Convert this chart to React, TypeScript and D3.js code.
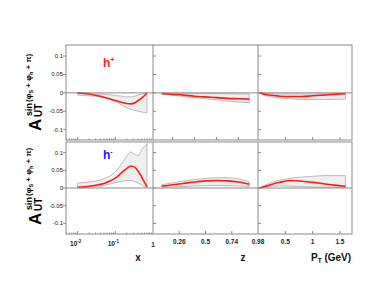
import React from "react";
import * as d3 from "d3";

// ---- data ----
const xVals = [0.01, 0.02, 0.035, 0.05, 0.07, 0.1, 0.15, 0.2, 0.26, 0.33, 0.4, 0.5, 0.6, 0.69];
const xPlusCentral = [0, -0.003, -0.008, -0.012, -0.016, -0.021, -0.026, -0.029, -0.03, -0.027, -0.021, -0.014, -0.007, 0];
const xPlusUpper = [-0.002, -0.003, -0.003, -0.004, -0.005, -0.007, -0.009, -0.011, -0.011, -0.009, -0.006, -0.003, -0.001, 0];
const xPlusLower = [-0.006, -0.008, -0.01, -0.013, -0.018, -0.024, -0.033, -0.04, -0.045, -0.048, -0.05, -0.052, -0.053, -0.054];
const xMinusCentral = [0.002, 0.005, 0.009, 0.013, 0.019, 0.028, 0.044, 0.055, 0.062, 0.058, 0.048, 0.031, 0.015, 0.003];
const xMinusUpper = [0.014, 0.017, 0.021, 0.026, 0.033, 0.046, 0.07, 0.09, 0.102, 0.095, 0.092, 0.108, 0.118, 0.125];
const xMinusLower = [0.0, 0.002, 0.004, 0.007, 0.011, 0.015, 0.019, 0.021, 0.021, 0.018, 0.014, 0.009, 0.004, 0.0];

const zVals = [0.1, 0.2, 0.3, 0.4, 0.5, 0.6, 0.7, 0.8, 0.9];
const zPlusCentral = [-0.002, -0.004, -0.006, -0.009, -0.011, -0.013, -0.015, -0.016, -0.017];
const zPlusUpper = [-0.001, -0.001, -0.001, -0.002, -0.002, -0.002, -0.002, -0.003, -0.003];
const zPlusLower = [-0.003, -0.006, -0.01, -0.013, -0.016, -0.019, -0.022, -0.025, -0.027];
const zMinusCentral = [0.005, 0.009, 0.013, 0.017, 0.02, 0.021, 0.02, 0.017, 0.011];
const zMinusUpper = [0.009, 0.015, 0.02, 0.024, 0.027, 0.029, 0.029, 0.026, 0.018];
const zMinusLower = [0.002, 0.003, 0.004, 0.006, 0.007, 0.007, 0.007, 0.006, 0.004];

const ptVals = [0.03, 0.2, 0.4, 0.6, 0.8, 1.0, 1.2, 1.4, 1.6];
const ptPlusCentral = [0, -0.006, -0.009, -0.01, -0.01, -0.008, -0.006, -0.004, -0.002];
const ptPlusUpper = [0, -0.002, -0.003, -0.003, -0.003, -0.003, -0.002, -0.002, -0.001];
const ptPlusLower = [-0.001, -0.01, -0.014, -0.016, -0.018, -0.018, -0.018, -0.017, -0.017];
const ptMinusCentral = [0, 0.008, 0.016, 0.021, 0.019, 0.016, 0.012, 0.008, 0.005];
const ptMinusUpper = [0, 0.013, 0.022, 0.028, 0.031, 0.033, 0.035, 0.035, 0.035];
const ptMinusLower = [0, 0.004, 0.006, 0.005, 0.004, 0.003, 0.002, 0.002, 0.002];

const yTicks = [0.1, 0.05, 0, -0.05, -0.1];
const yTickLabels = ["0.1", "0.05", "0", "-0.05", "-0.1"];
const zTicksTop = [0.2, 0.4, 0.6, 0.8];
const zTicksBottom = [0.26, 0.5, 0.74, 0.98];
const zTickLabels = ["0.26", "0.5", "0.74", "0.98"];
const ptTicks = [0.5, 1, 1.5];
const ptTickLabels = ["0.5", "1", "1.5"];

// ---- layout ----
const W = 376, H = 291;
const X0 = 66, X1 = 153, X2 = 258, X3 = 352;
const rows = [
  { top: 45, bottom: 140, dom: [-0.128, 0.13] },
  { top: 142, bottom: 234, dom: [-0.13, 0.13] },
];
const GRID = "#8a8a8a";
const RED = "#ff1a1a";
const FONT = "'Liberation Sans', Arial, sans-serif";

const xLog = d3.scaleLog().domain([0.0049, 1]).range([X0, X1]);
const xZ = d3.scaleLinear().domain([0.02, 0.98]).range([X1, X2]);
const xPT = d3.scaleLinear().domain([0, 1.72]).range([X2, X3]);

function Band({ xs, up, lo, c, xs_, ys }: any) {
  const area = d3
    .area<number>()
    .x((_, i) => xs_(xs[i]))
    .y0((_, i) => ys(lo[i]))
    .y1((_, i) => ys(up[i]))
    .curve(d3.curveMonotoneX);
  const line = d3
    .line<number>()
    .x((_, i) => xs_(xs[i]))
    .y((_, i) => ys(c[i]))
    .curve(d3.curveMonotoneX);
  const idx = xs.map((_: number, i: number) => i);
  return (
    <g>
      <path d={area(idx) || ""} fill="#efefef" stroke="#a0a0a0" strokeWidth={0.7} />
      <path d={line(idx) || ""} fill="none" stroke={RED} strokeWidth={1.6} />
    </g>
  );
}

const rot = (x: number, y: number) => `matrix(0,-1,1,0,${x},${y})`;

function YTitle({ y }: { y: number }) {
  return (
    <g fontFamily={FONT} fontWeight="bold" fill="#000">
      <text transform={rot(41, y)} fontSize={17}>A</text>
      <text transform={rot(42, y - 14)} fontSize={10}>UT</text>
      <text transform={rot(32, y - 15)} fontSize={9}>sin</text>
      <text transform={rot(30.5, y - 29)} fontSize={8}>
        (φ<tspan fontSize={5.5} dy={2}>S</tspan>
        <tspan dy={-2}> + φ</tspan>
        <tspan fontSize={5.5} dy={2}>h</tspan>
        <tspan dy={-2}> + π)</tspan>
      </text>
    </g>
  );
}

export default function App() {
  const minorLog: number[] = [];
  for (const d of [-3, -2, -1]) {
    for (let k = 1; k <= 9; k++) {
      const v = k * Math.pow(10, d);
      if (v >= 0.0049 && v <= 1) minorLog.push(v);
    }
  }
  const majorLog = [0.01, 0.1];

  return (
    <svg width={W} height={H} style={{ position: "absolute", left: 0, top: 0 }}>
      <rect width={W} height={H} fill="#fff" />
      {rows.map((r, ri) => {
        const ys = d3.scaleLinear().domain(r.dom).range([r.bottom, r.top]);
        const plus = ri === 0;
        return (
          <g key={ri}>
            <Band
              xs={xVals}
              up={plus ? xPlusUpper : xMinusUpper}
              lo={plus ? xPlusLower : xMinusLower}
              c={plus ? xPlusCentral : xMinusCentral}
              xs_={xLog}
              ys={ys}
            />
            <Band
              xs={zVals}
              up={plus ? zPlusUpper : zMinusUpper}
              lo={plus ? zPlusLower : zMinusLower}
              c={plus ? zPlusCentral : zMinusCentral}
              xs_={xZ}
              ys={ys}
            />
            <Band
              xs={ptVals}
              up={plus ? ptPlusUpper : ptMinusUpper}
              lo={plus ? ptPlusLower : ptMinusLower}
              c={plus ? ptPlusCentral : ptMinusCentral}
              xs_={xPT}
              ys={ys}
            />
            <line x1={X0} x2={X3} y1={ys(0)} y2={ys(0)} stroke={GRID} strokeWidth={1} />
            <rect x={X0} y={r.top} width={X3 - X0} height={r.bottom - r.top} fill="none" stroke={GRID} strokeWidth={1} />
            <line x1={X1} x2={X1} y1={r.top} y2={r.bottom} stroke={GRID} />
            <line x1={X2} x2={X2} y1={r.top} y2={r.bottom} stroke={GRID} />
            {yTicks.map((t, i) => (
              <g key={i}>
                <line x1={X0 - 3} x2={X0} y1={ys(t)} y2={ys(t)} stroke={GRID} />
                <line x1={X1} x2={X1 + 3} y1={ys(t)} y2={ys(t)} stroke={GRID} />
                <line x1={X2} x2={X2 + 3} y1={ys(t)} y2={ys(t)} stroke={GRID} />
                <text x={63} y={ys(t) + 2} fontSize={6} textAnchor="end" fontFamily={FONT} fill="#222">
                  {yTickLabels[i]}
                </text>
              </g>
            ))}
            {minorLog.map((v, i) => (
              <line key={"m" + i} x1={xLog(v)} x2={xLog(v)} y1={r.bottom} y2={r.bottom - (majorLog.includes(v) ? 3 : 1.5)} stroke={GRID} />
            ))}
            {(plus ? zTicksTop : zTicksBottom.slice(0, 3)).map((v, i) => (
              <line key={"z" + i} x1={xZ(v)} x2={xZ(v)} y1={r.bottom} y2={r.bottom - 3} stroke={GRID} />
            ))}
            {ptTicks.map((v, i) => (
              <line key={"p" + i} x1={xPT(v)} x2={xPT(v)} y1={r.bottom} y2={r.bottom - 3} stroke={GRID} />
            ))}
            <YTitle y={r.bottom - 9} />
          </g>
        );
      })}
      <text x={103} y={67} fontSize={12} fontWeight="bold" fill={RED} fontFamily={FONT}>
        h<tspan fontSize={7} dy={-5}>+</tspan>
      </text>
      <text x={103} y={159} fontSize={12} fontWeight="bold" fill="#1a1aff" fontFamily={FONT}>
        h<tspan fontSize={7} dy={-5}>-</tspan>
      </text>
      <g fontFamily={FONT} fontWeight="bold" fontSize={6.5} fill="#222" textAnchor="middle">
        <text x={xLog(0.01) - 2} y={246}>
          10<tspan fontSize={4.5} dy={-3}>-2</tspan>
        </text>
        <text x={xLog(0.1) - 2} y={246}>
          10<tspan fontSize={4.5} dy={-3}>-1</tspan>
        </text>
        <text x={xLog(1)} y={247}>1</text>
        {zTicksBottom.map((v, i) => (
          <text key={i} x={xZ(v)} y={244}>{zTickLabels[i]}</text>
        ))}
        {ptTicks.map((v, i) => (
          <text key={i} x={xPT(v)} y={244}>{ptTickLabels[i]}</text>
        ))}
      </g>
      <g fontFamily={FONT} fontWeight="bold" fontSize={10} fill="#111">
        <text x={138} y={261} textAnchor="middle">x</text>
        <text x={243} y={261} textAnchor="middle">z</text>
        <text x={311} y={261}>
          P<tspan fontSize={6.5} dy={2}>T</tspan>
          <tspan dy={-2}> (GeV)</tspan>
        </text>
      </g>
    </svg>
  );
}
